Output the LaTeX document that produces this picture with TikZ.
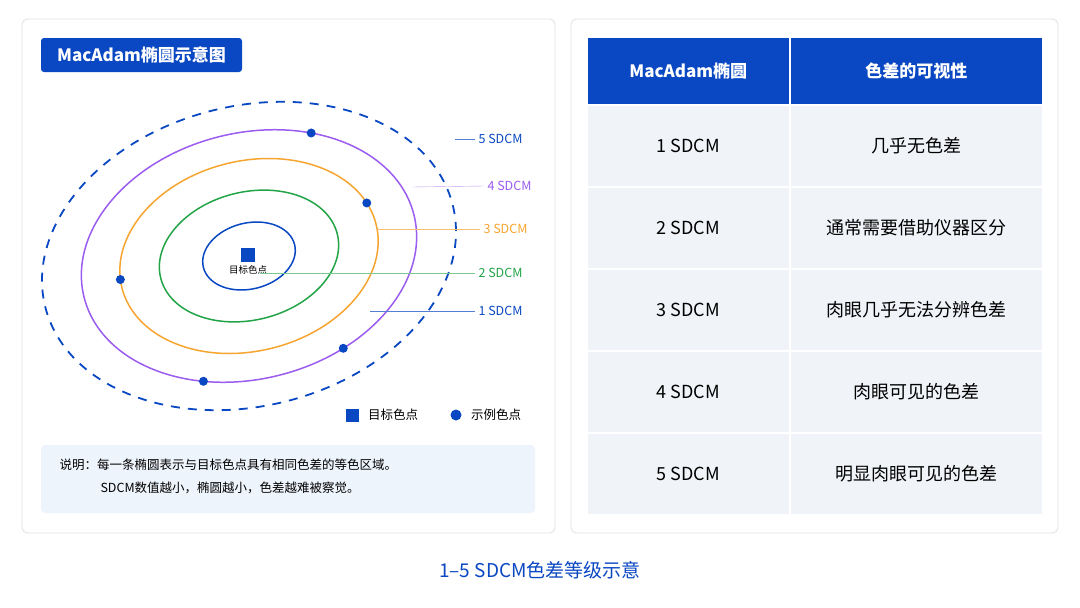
\documentclass[tikz,border=0pt]{standalone}
\usepackage{fontspec}
\setmainfont{Noto Sans CJK SC}
\usetikzlibrary{positioning, calc}
\definecolor{mblue}{HTML}{0A47C2}
\definecolor{mgreen}{HTML}{22A447}
\definecolor{morange}{HTML}{F7A531}
\definecolor{mpurple}{HTML}{9B5CF0}
\definecolor{cellgray}{HTML}{F0F3F8}
\definecolor{notebg}{HTML}{EEF4FC}
\tikzset{
  panel/.style={draw=black!12, fill=white, rounded corners=6pt, line width=0.8pt},
  cell/.style={fill=cellgray, draw=white, line width=1.5pt, minimum width=#1, minimum height=82pt, font=\fontsize{18pt}{20pt}\selectfont, anchor=north west},
  head/.style={fill=mblue, draw=white, line width=1.5pt, minimum width=#1, minimum height=68pt, text=white, font=\fontsize{17pt}{20pt}\selectfont\bfseries, anchor=north west},
  dot/.style={circle, fill=mblue, inner sep=0pt, minimum size=9pt},
  lbl/.style={font=\fontsize{12.5pt}{14pt}\selectfont, anchor=west}
}
\begin{document}
\begin{tikzpicture}[x=1pt,y=-1pt]
\useasboundingbox (0,0) rectangle (1080,608);
\fill[white] (0,0) rectangle (1080,608);
% panels
\draw[panel] (22,19) rectangle (555,533);
\draw[panel] (571,19) rectangle (1058,533);
\node[fill=mblue, rounded corners=3pt, text=white, minimum width=201pt, minimum height=34pt, font=\fontsize{17pt}{19pt}\selectfont\bfseries] (title) at (141.5,55) {MacAdam椭圆示意图};
% ellipses
\begin{scope}[shift={(249,256)}, rotate=14]
\draw[mblue, line width=1.8pt, dash pattern=on 9pt off 8pt] (0,0) ellipse [x radius=210, y radius=150];
\draw[mpurple, line width=1.5pt] (0,0) ellipse [x radius=170, y radius=123];
\draw[morange, line width=1.5pt] (0,0) ellipse [x radius=131, y radius=95];
\draw[mgreen, line width=1.5pt] (0,0) ellipse [x radius=91, y radius=64];
\draw[mblue, line width=1.5pt] (0,0) ellipse [x radius=47, y radius=33];
% sample dots on the curves
\foreach \t/\rx/\ry [count=\i] in {-58/170/123, -14/131/95, 185/131/95, 66/170/123, 116/170/123}
  \node[dot] (d\i) at ({\rx*cos(\t)},{\ry*sin(\t)}) {};
\end{scope}
\node[fill=mblue, minimum size=14pt, inner sep=0pt] (target) at (248,255) {};
\node[font=\fontsize{9.5pt}{10pt}\selectfont, below=0pt of target] (tlabel) {目标色点};
% labels
\coordinate (a5) at (455,139); \node[lbl, text=mblue] (l5) at (475,139) {5 SDCM};
\coordinate (a4) at (413,187); \node[lbl, text=mpurple] (l4) at (484,186) {4 SDCM};
\coordinate (a3) at (377,229); \node[lbl, text=morange] (l3) at (480,229) {3 SDCM};
\coordinate (a2) at (260,273); \node[lbl, text=mgreen] (l2) at (475,273) {2 SDCM};
\coordinate (a1) at (370,311); \node[lbl, text=mblue] (l1) at (475,311) {1 SDCM};
\draw[mblue!70] (a5) -- (l5.west);
\draw[mpurple!60] (a4) -- (l4.west);
\draw[morange!70] (a3) -- (l3.west);
\draw[mgreen!60] (a2) -- (l2.west);
\draw[mblue!70] (a1) -- (l1.west);
% legend
\node[fill=mblue, minimum size=13pt, inner sep=0pt] (lsq) at (352,415) {};
\node[lbl, right=6pt of lsq] (lsqt) {目标色点};
\node[dot, minimum size=11pt] (ldot) at (456,415) {};
\node[lbl, right=6pt of ldot] (ldott) {示例色点};
% note
\node[fill=notebg, rounded corners=4pt, minimum width=494pt, minimum height=68pt] (note) at (288,479) {};
\node[font=\fontsize{12.5pt}{23pt}\selectfont, anchor=north west, align=left] (notet) at (56,455) {说明：每一条椭圆表示与目标色点具有相同色差的等色区域。\\\hspace*{41pt}SDCM数值越小，椭圆越小，色差越难被察觉。};
% table
\node[head=203pt] (h1) at (586,36) {MacAdam椭圆};
\node[head=253pt] (h2) at (789,36) {色差的可视性};
\foreach \a/\b [count=\i] in {1 SDCM/几乎无色差, 2 SDCM/通常需要借助仪器区分, 3 SDCM/肉眼几乎无法分辨色差, 4 SDCM/肉眼可见的色差, 5 SDCM/明显肉眼可见的色差}{
  \node[cell=203pt] (r\i a) at (586,{104+82*(\i-1)}) {\a};
  \node[cell=253pt] (r\i b) at (789,{104+82*(\i-1)}) {\b};
}
% caption
\node[text=mblue, font=\fontsize{19pt}{21pt}\selectfont] (cap) at (540,570) {1–5 SDCM色差等级示意};
\end{tikzpicture}
\end{document}
